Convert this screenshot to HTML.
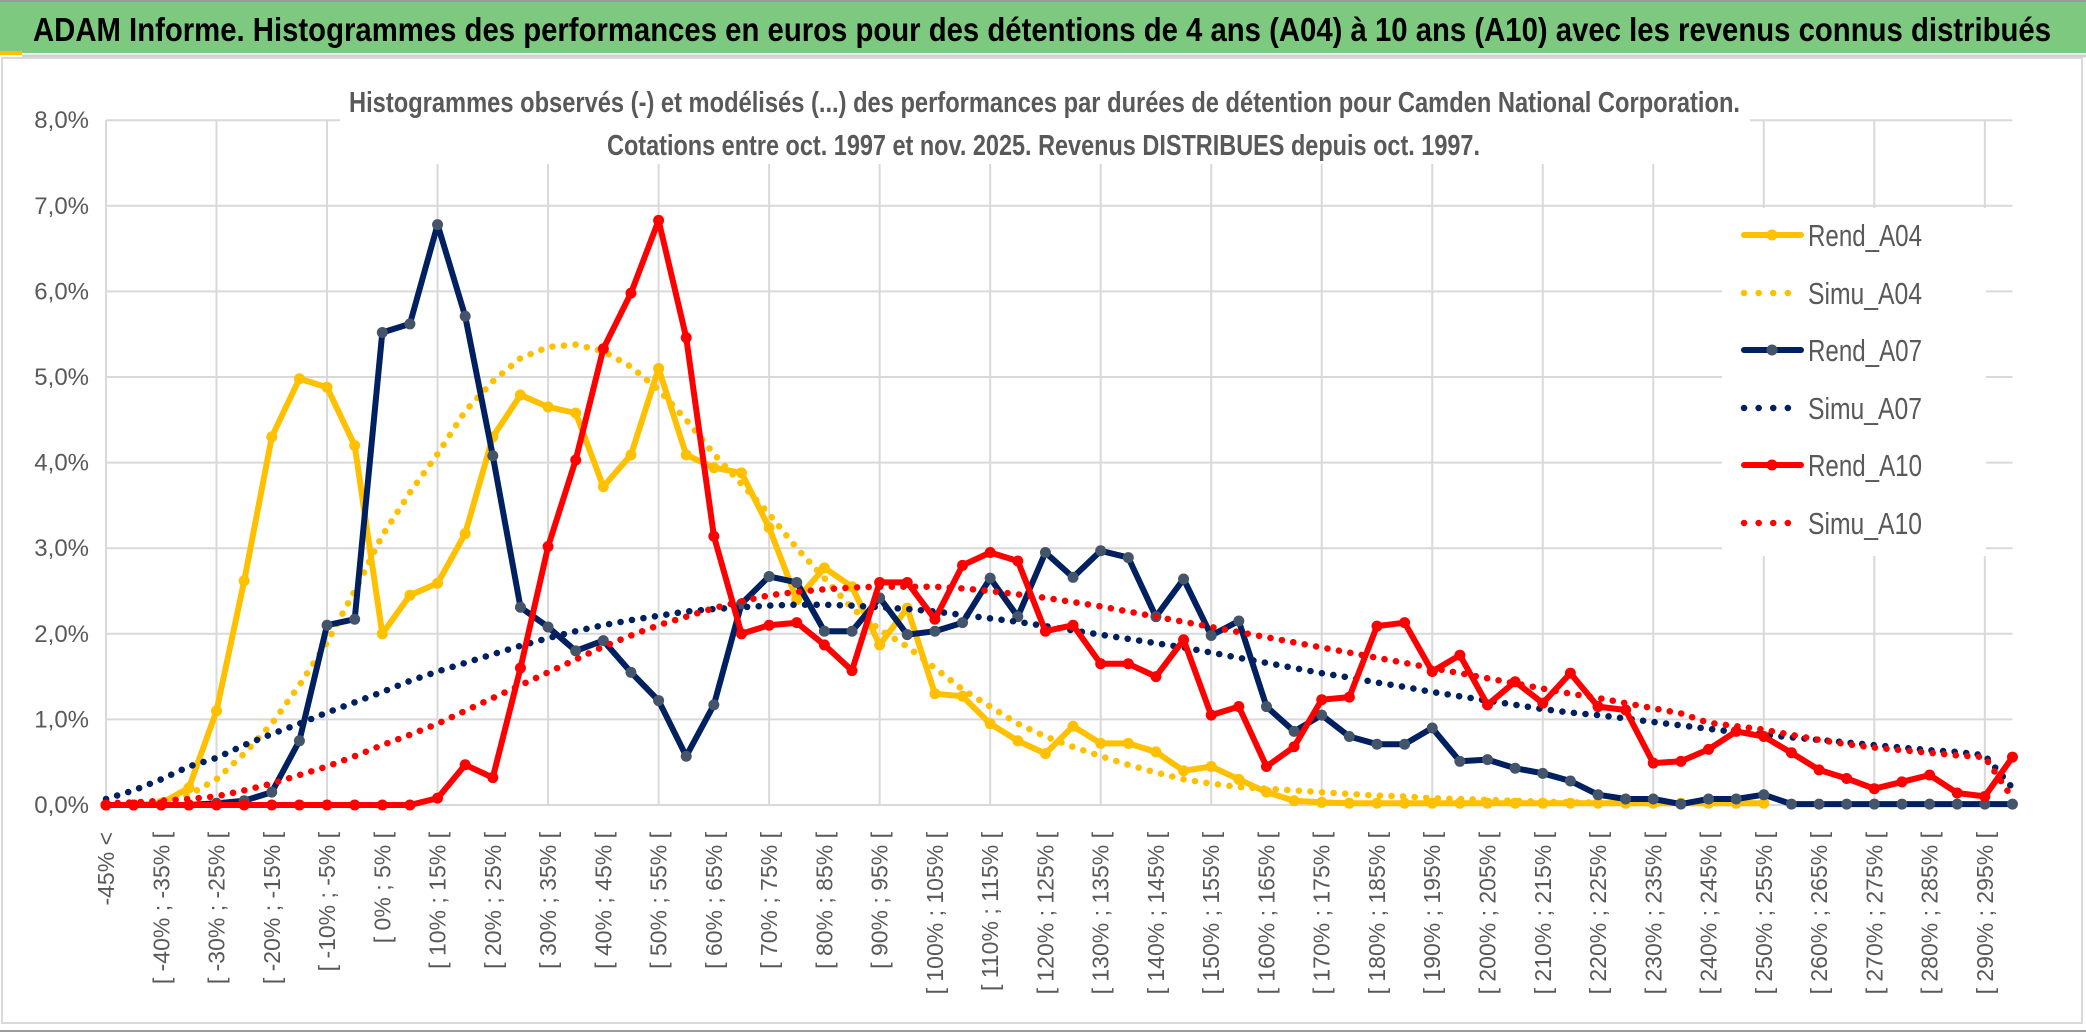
<!DOCTYPE html>
<html><head><meta charset="utf-8"><style>
html,body{margin:0;padding:0;background:#fff;}
svg{display:block;}
text{font-family:"Liberation Sans",sans-serif;}
</style></head><body>
<svg id="chart" width="2086" height="1033" viewBox="0 0 2086 1033" xmlns="http://www.w3.org/2000/svg">
  <rect x="0" y="0" width="2086" height="1033" fill="#ffffff"/>
  <rect x="0" y="2" width="2086" height="51" fill="#7dc97f"/>
  <line x1="0" y1="1" x2="2086" y2="1" stroke="#9a9a9a" stroke-width="2"/>
  <rect x="0" y="51" width="22" height="4" fill="#ffc000"/>
  <line x1="22" y1="56" x2="2086" y2="56" stroke="#d0d0d0" stroke-width="3"/>
  <text x="33" y="41" font-size="33" font-weight="bold" fill="#000" textLength="2018" lengthAdjust="spacingAndGlyphs">ADAM Informe. Histogrammes des performances en euros pour des détentions de 4 ans (A04) à 10 ans (A10) avec les revenus connus distribués</text>
  <rect x="2" y="58" width="2080" height="965" fill="none" stroke="#d9d9d9" stroke-width="2"/>
  <line x1="0" y1="1031" x2="2086" y2="1031" stroke="#9a9a9a" stroke-width="2"/>
  <g id="grid"></g>
  <g id="yaxis"></g>
  <g id="xaxis"></g>
  <rect x="340" y="80" width="1410" height="84" fill="#ffffff"/>
  <text x="349" y="112" font-size="29" font-weight="bold" fill="#595959" textLength="1391" lengthAdjust="spacingAndGlyphs">Histogrammes observés (-) et modélisés (...) des performances par durées de détention pour Camden National Corporation.</text>
  <text x="607" y="155" font-size="29" font-weight="bold" fill="#595959" textLength="873" lengthAdjust="spacingAndGlyphs">Cotations entre oct. 1997 et nov. 2025. Revenus DISTRIBUES depuis oct. 1997.</text>
  <g id="series"></g>
  <g id="legend"></g>
</svg>
<script>
const categoryCount = 70;
const yTicks = [0,1,2,3,4,5,6,7,8];
const yTickLabels = ["0,0%","1,0%","2,0%","3,0%","4,0%","5,0%","6,0%","7,0%","8,0%"];
const rendA04 = [0,0,0.02,0.2,1.1,2.62,4.3,4.98,4.88,4.2,2.0,2.45,2.59,3.17,4.3,4.79,4.65,4.58,3.72,4.09,5.1,4.09,3.94,3.88,3.24,2.4,2.77,2.55,1.87,2.3,1.3,1.27,0.95,0.75,0.6,0.92,0.72,0.72,0.62,0.4,0.45,0.3,0.15,0.05,0.03,0.02,0.02,0.02,0.02,0.02,0.02,0.02,0.02,0.02,0.02,0.02,0.02,0.02,0.02,0.02,0.02,null,null,null,null,null,null,null,null,null];
const simuA04 = [0,0.01,0.05,0.12,0.3,0.6,0.95,1.4,1.9,2.5,3.15,3.65,4.1,4.6,4.95,5.22,5.35,5.38,5.3,5.12,4.85,4.5,4.1,3.75,3.4,3.0,2.65,2.3,2.05,1.85,1.6,1.35,1.15,0.95,0.8,0.68,0.57,0.47,0.38,0.3,0.25,0.21,0.19,0.17,0.15,0.13,0.11,0.1,0.08,0.07,0.06,0.05,0.04,0.03,0.03,0.02,0.02,0.02,0.02,0.02,0.02,null,null,null,null,null,null,null,null,null];
const rendA07 = [0,0,0,0,0.02,0.05,0.15,0.75,2.1,2.17,5.52,5.62,6.78,5.71,4.08,2.31,2.08,1.8,1.92,1.55,1.22,0.57,1.17,2.35,2.67,2.6,2.03,2.03,2.42,1.99,2.03,2.13,2.65,2.2,2.95,2.66,2.97,2.89,2.2,2.64,1.98,2.15,1.15,0.86,1.05,0.8,0.71,0.71,0.9,0.51,0.53,0.43,0.37,0.28,0.12,0.07,0.07,0.01,0.07,0.07,0.12,0.01,0.01,0.01,0.01,0.01,0.01,0.01,0.01,0.01];
const simuA07 = [0.07,0.17,0.3,0.45,0.55,0.7,0.83,0.95,1.08,1.2,1.32,1.45,1.56,1.66,1.76,1.86,1.95,2.03,2.1,2.16,2.21,2.26,2.29,2.31,2.33,2.34,2.34,2.33,2.31,2.29,2.26,2.22,2.18,2.14,2.09,2.04,1.99,1.94,1.89,1.84,1.78,1.72,1.66,1.6,1.54,1.49,1.43,1.38,1.32,1.27,1.22,1.17,1.12,1.08,1.05,1.01,0.97,0.93,0.89,0.85,0.82,0.79,0.76,0.73,0.7,0.67,0.64,0.62,0.58,0.2];
const rendA10 = [0,0,0,0,0,0,0,0,0,0,0,0,0.08,0.47,0.32,1.6,3.02,4.03,5.33,5.98,6.83,5.46,3.14,2.0,2.1,2.13,1.87,1.57,2.6,2.6,2.17,2.8,2.95,2.85,2.03,2.1,1.65,1.65,1.5,1.93,1.05,1.15,0.45,0.68,1.23,1.26,2.09,2.13,1.56,1.75,1.17,1.44,1.19,1.54,1.15,1.11,0.49,0.51,0.65,0.86,0.8,0.61,0.41,0.31,0.19,0.27,0.35,0.14,0.1,0.56];
const simuA10 = [0.02,0.03,0.05,0.07,0.1,0.17,0.25,0.35,0.45,0.57,0.7,0.82,0.95,1.1,1.25,1.4,1.55,1.7,1.85,1.98,2.1,2.2,2.3,2.38,2.45,2.49,2.52,2.54,2.55,2.55,2.55,2.53,2.5,2.46,2.42,2.37,2.32,2.26,2.2,2.14,2.08,2.02,1.96,1.9,1.84,1.78,1.72,1.66,1.6,1.54,1.48,1.42,1.36,1.3,1.25,1.19,1.13,1.07,0.96,0.92,0.88,0.82,0.76,0.71,0.67,0.64,0.61,0.58,0.56,0.08];

const NS = "http://www.w3.org/2000/svg";
const X0 = 106, XSTEP = 27.63, Y0 = 805, YPER = 85.6;
function xScale(i){ return X0 + i*XSTEP; }
function yScale(v){ return Y0 - v*YPER; }
function mk(tag, attrs, parent){ const e=document.createElementNS(NS,tag); for(const k in attrs) e.setAttribute(k, attrs[k]); parent.appendChild(e); return e; }
function catLabel(i){ if(i===0) return "-45% <"; const lo=-45+5*(i-1); return "[ "+lo+"% ; "+(lo+5)+"% ["; }

const grid = document.getElementById('grid');
const xRight = xScale(categoryCount-1);
yTicks.forEach(function(t){
  const l = mk('line',{x1:X0,x2:xRight,y1:yScale(t),y2:yScale(t),stroke:'#d9d9d9','stroke-width':2},grid);
  
  
});
for(let i=0;i<categoryCount;i+=4){
  const l = mk('line',{x1:xScale(i),x2:xScale(i),y1:yScale(8),y2:Y0,stroke:'#d9d9d9','stroke-width':2},grid);
  
  
}
const yaxis = document.getElementById('yaxis');
yTicks.forEach(function(t,k){
  const tx = mk('text',{x:89,y:yScale(t)+8,'text-anchor':'end','font-size':24,fill:'#595959'},yaxis);
  tx.textContent = yTickLabels[k];
  
  
});
const xaxis = document.getElementById('xaxis');
for(let i=0;i<categoryCount;i+=2){
  const x = xScale(i)+8, y = 832;
  const tx = mk('text',{x:x,y:y,'text-anchor':'end','font-size':23,fill:'#595959',transform:'rotate(-90 '+x+' '+y+')'},xaxis);
  tx.textContent = catLabel(i);
  
  
}

const seriesLayer = document.getElementById('series');
function pathFor(arr){
  let d='', pen=false;
  arr.forEach(function(v,i){ if(v===null){pen=false;return;} d += (pen?'L':'M')+xScale(i).toFixed(1)+' '+yScale(v).toFixed(1)+' '; pen=true; });
  return d;
}
function drawSolid(arr, color, markerFill, name){
  const g = mk('g',{},seriesLayer);
  
  
  const p = mk('path',{d:pathFor(arr),fill:'none',stroke:color,'stroke-width':6,'stroke-linejoin':'round','stroke-linecap':'round'},g);
  
  
  arr.forEach(function(v,i){
    if(v===null) return;
    const c = mk('circle',{cx:xScale(i),cy:yScale(v),r:5.5,fill:markerFill},g);
    
    
  });
}
function drawDotted(arr, color, name){
  const p = mk('path',{d:pathFor(arr),fill:'none',stroke:color,'stroke-width':6.5,'stroke-linecap':'round','stroke-dasharray':'0.1 11.5'},seriesLayer);
  
  
}
drawSolid(rendA04,'#ffc000','#ffc000','rend-a04-series');
drawDotted(simuA04,'#ffc000','simu-a04-series');
drawSolid(rendA07,'#002060','#44546a','rend-a07-series');
drawDotted(simuA07,'#002060','simu-a07-series');
drawSolid(rendA10,'#ff0000','#ff0000','rend-a10-series');
drawDotted(simuA10,'#ff0000','simu-a10-series');

const legend = document.getElementById('legend');
const lb = mk('rect',{x:1722,y:208,width:264,height:348,fill:'#ffffff'},legend);


const legendNames = ["Rend_A04","Simu_A04","Rend_A07","Simu_A07","Rend_A10","Simu_A10"];
const legendColors = ["#ffc000","#ffc000","#002060","#002060","#ff0000","#ff0000"];
const legendMarker = ["#ffc000",null,"#44546a",null,"#ff0000",null];
const legendY = [235,293,350,408,465,523];
legendNames.forEach(function(n,k){
  const g = mk('g',{},legend);
  
  
  const y = legendY[k];
  if(legendMarker[k]){
    mk('line',{x1:1744,x2:1801,y1:y,y2:y,stroke:legendColors[k],'stroke-width':6,'stroke-linecap':'round'},g);
    mk('circle',{cx:1772,cy:y,r:5.5,fill:legendMarker[k]},g);
  } else {
    mk('line',{x1:1744,x2:1801,y1:y,y2:y,stroke:legendColors[k],'stroke-width':6.5,'stroke-linecap':'round','stroke-dasharray':'0.1 14.5'},g);
  }
  const t = mk('text',{x:1808,y:y+11,'font-size':31,fill:'#595959',textLength:114,lengthAdjust:'spacingAndGlyphs'},g);
  t.textContent = n;
  
  
});
</script>
</body></html>
